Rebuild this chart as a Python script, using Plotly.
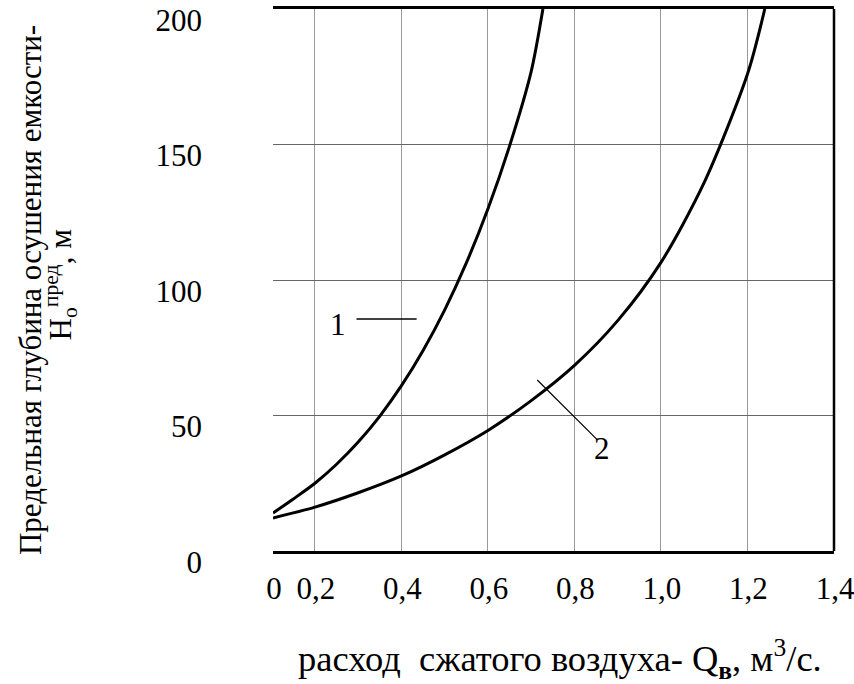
import plotly.graph_objects as go

# ---- data ----
x_curve1 = [0.103, 0.15, 0.20, 0.25, 0.30, 0.35, 0.40, 0.45, 0.50, 0.55, 0.60, 0.65, 0.70, 0.727]
y_curve1 = [14.0, 19.2, 25.0, 32.0, 40.2, 49.8, 61.0, 74.0, 89.0, 106.3, 126.3, 149.5, 177.0, 200.0]

x_curve2 = [0.103, 0.20, 0.30, 0.40, 0.50, 0.60, 0.70, 0.80, 0.90, 1.00, 1.10, 1.20, 1.24]
y_curve2 = [12.2, 16.2, 21.5, 27.7, 35.5, 44.5, 55.5, 68.5, 85.0, 106.5, 136.0, 176.0, 200.0]

x_tickvals = [0.103, 0.2, 0.4, 0.6, 0.8, 1.0, 1.2, 1.4]
x_ticktext = ["0", "0,2", "0,4", "0,6", "0,8", "1,0", "1,2", "1,4"]
x_gridvals = [0.2, 0.4, 0.6, 0.8, 1.0, 1.2]
y_tickvals = [0, 50, 100, 150, 200]
y_ticktext = ["0", "50", "100", "150", "200"]

FONT = "Liberation Serif"
X_MIN, X_MAX = 0.103, 1.4

fig = go.Figure()
fig.add_trace(go.Scatter(x=x_curve1, y=y_curve1, mode="lines",
                         line=dict(color="black", width=3, shape="spline", smoothing=0.8),
                         showlegend=False, hoverinfo="skip"))
fig.add_trace(go.Scatter(x=x_curve2, y=y_curve2, mode="lines",
                         line=dict(color="black", width=3, shape="spline", smoothing=0.8),
                         showlegend=False, hoverinfo="skip"))

fig.update_layout(
    width=854, height=684,
    margin=dict(l=273, r=20, t=9, b=133, autoexpand=False),
    paper_bgcolor="white", plot_bgcolor="white",
    font=dict(family=FONT, size=30, color="black"),
    showlegend=False,
)

fig.update_xaxes(
    range=[X_MIN, X_MAX], tickmode="array", tickvals=x_tickvals, ticktext=x_ticktext,
    showgrid=False, zeroline=False, automargin=False,
    minor=dict(tickmode="array", tickvals=x_gridvals, showgrid=True, gridcolor="#999999", gridwidth=1, ticks=""),
    showline=True, linecolor="black", linewidth=2.5, mirror=True,
    ticks="", ticklabelstandoff=8, ticklabelshift=1, ticklabeloverflow="allow",
    tickfont=dict(family=FONT, size=31, color="black"),
)
fig.update_yaxes(
    range=[0, 200], tickmode="array", tickvals=y_tickvals, ticktext=y_ticktext,
    showgrid=True, gridcolor="#666666", gridwidth=1, zeroline=False, automargin=False,
    showline=False, ticks="", ticklabelstandoff=70, ticklabelshift=11, ticklabeloverflow="allow",
    tickfont=dict(family=FONT, size=31, color="black"),
)

# right border of the plotting area
fig.add_shape(type="line", xref="paper", yref="paper", x0=1, x1=1, y0=0, y1=1,
              line=dict(color="black", width=2.5))

# curve labels with leader lines
fig.add_shape(type="line", xref="x", yref="y", x0=0.292, y0=85.6, x1=0.435, y1=85.6,
              line=dict(color="black", width=1.5))
fig.add_annotation(x=0.253, y=83.4, xref="x", yref="y", text="1", showarrow=False,
                   font=dict(family=FONT, size=31, color="black"),
                   bgcolor="white", borderpad=10)
fig.add_shape(type="line", xref="x", yref="y", x0=0.714, y0=63.1, x1=0.853, y1=41.0,
              line=dict(color="black", width=1.2))
fig.add_annotation(x=0.864, y=38.0, xref="x", yref="y", text="2", showarrow=False,
                   font=dict(family=FONT, size=31, color="black"))

# axis titles
fig.add_annotation(x=0, y=0.4815, xref="paper", yref="paper", xanchor="center", yanchor="middle",
                   xshift=-243, text="Предельная глубина осушения емкости-", textangle=-90,
                   showarrow=False, font=dict(family=FONT, size=31, color="black"))
fig.add_annotation(x=0, y=0.49, xref="paper", yref="paper", xanchor="center", yanchor="middle",
                   xshift=-212, text="H<sub>o</sub><sup>пред</sup>, м", textangle=-90,
                   showarrow=False, font=dict(family=FONT, size=31, color="black"))
fig.add_annotation(x=0.5116, y=0, xref="paper", yref="paper", xanchor="center", yanchor="middle",
                   yshift=-108, text="расход\u00a0 сжатого воздуха- Q<sub><b>в</b></sub>, м<sup>3</sup>/с.",
                   showarrow=False, font=dict(family=FONT, size=36.5, color="black"))

fig.write_html("out.html")
